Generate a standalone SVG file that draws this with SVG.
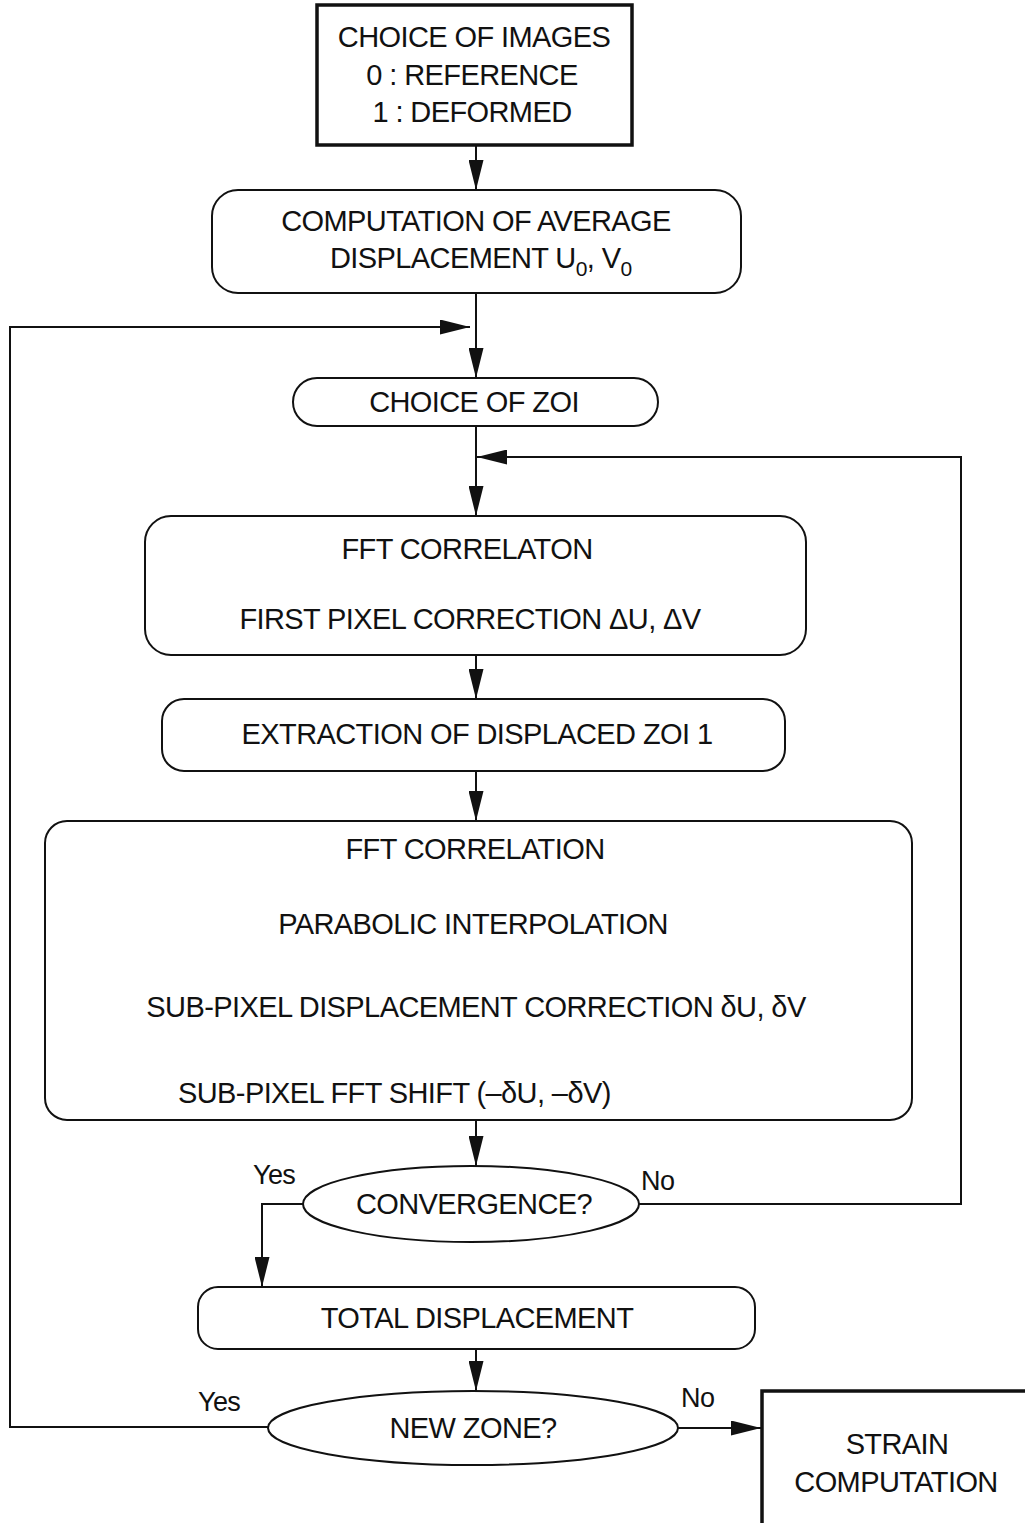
<svg xmlns="http://www.w3.org/2000/svg" width="1025" height="1523" viewBox="0 0 1025 1523">
<style>
  .box { fill: #fff; stroke: #111; stroke-width: 2; }
  .thick { fill: #fff; stroke: #111; stroke-width: 3.5; }
  .line { fill: none; stroke: #111; stroke-width: 2; }
  text { font-family: "Liberation Sans", Arial, sans-serif; font-size: 29px; letter-spacing: -0.6px; fill: #111; }
  .c { text-anchor: middle; }
  .lbl { font-size: 27px; }
</style>
<defs>
  <marker id="ah" viewBox="0 0 30 15" refX="30" refY="7.5" markerWidth="30" markerHeight="15" markerUnits="userSpaceOnUse" orient="auto">
    <path d="M0,0 L30,7.5 L0,15 Z" fill="#111"/>
  </marker>
</defs>
<rect width="1025" height="1523" fill="#fff"/>
<g id="connectors">
  <line class="line" x1="476" y1="145" x2="476" y2="190" marker-end="url(#ah)"/>
  <line class="line" x1="476" y1="293" x2="476" y2="378" marker-end="url(#ah)"/>
  <polyline class="line" points="268,1427 10,1427 10,327 470,327" marker-end="url(#ah)"/>
  <line class="line" x1="476" y1="426" x2="476" y2="516" marker-end="url(#ah)"/>
  <polyline class="line" points="638,1204 961,1204 961,457 477,457" marker-end="url(#ah)"/>
  <line class="line" x1="476" y1="655" x2="476" y2="699" marker-end="url(#ah)"/>
  <line class="line" x1="476" y1="771" x2="476" y2="821" marker-end="url(#ah)"/>
  <line class="line" x1="476" y1="1120" x2="476" y2="1166" marker-end="url(#ah)"/>
  <polyline class="line" points="303,1204 262,1204 262,1287" marker-end="url(#ah)"/>
  <line class="line" x1="476" y1="1349" x2="476" y2="1391" marker-end="url(#ah)"/>
  <line class="line" x1="678" y1="1428" x2="761" y2="1428" marker-end="url(#ah)"/>
</g>
<g id="n-images">
  <rect class="thick" x="317" y="5" width="315" height="140"/>
  <text class="c" x="474" y="47">CHOICE OF IMAGES</text>
  <text class="c" x="472" y="85">0 : REFERENCE</text>
  <text class="c" x="472" y="122">1 : DEFORMED</text>
</g>
<g id="n-average">
  <rect class="box" x="212" y="190" width="529" height="103" rx="26"/>
  <text class="c" x="476" y="231">COMPUTATION OF AVERAGE</text>
  <text x="330" y="268">DISPLACEMENT U<tspan dy="8" font-size="21">0</tspan><tspan dy="-8">, V</tspan><tspan dy="8" font-size="21">0</tspan></text>
</g>
<g id="n-zoi">
  <rect class="box" x="293" y="378" width="365" height="48" rx="24"/>
  <text class="c" x="474" y="412">CHOICE OF ZOI</text>
</g>
<g id="n-fft1">
  <rect class="box" x="145" y="516" width="661" height="139" rx="26"/>
  <text class="c" x="467" y="559">FFT CORRELATON</text>
  <text class="c" x="470" y="629">FIRST PIXEL CORRECTION ΔU, ΔV</text>
</g>
<g id="n-extract">
  <rect class="box" x="162" y="699" width="623" height="72" rx="22"/>
  <text class="c" x="477" y="744">EXTRACTION OF DISPLACED ZOI 1</text>
</g>
<g id="n-fft2">
  <rect class="box" x="45" y="821" width="867" height="299" rx="22"/>
  <text class="c" x="475" y="859">FFT CORRELATION</text>
  <text class="c" x="473" y="934">PARABOLIC INTERPOLATION</text>
  <text class="c" x="476" y="1017">SUB-PIXEL DISPLACEMENT CORRECTION δU, δV</text>
  <text x="178" y="1103">SUB-PIXEL FFT SHIFT (–δU, –δV)</text>
</g>
<g id="n-convergence">
  <ellipse class="box" cx="471" cy="1204" rx="168" ry="38"/>
  <text class="c" x="474" y="1214">CONVERGENCE?</text>
  <text class="lbl" x="253" y="1184">Yes</text>
  <text class="lbl" x="641" y="1190">No</text>
</g>
<g id="n-total">
  <rect class="box" x="198" y="1287" width="557" height="62" rx="20"/>
  <text class="c" x="477" y="1328">TOTAL DISPLACEMENT</text>
</g>
<g id="n-newzone">
  <ellipse class="box" cx="473" cy="1428" rx="205" ry="37"/>
  <text class="c" x="473" y="1438">NEW ZONE?</text>
  <text class="lbl" x="198" y="1411">Yes</text>
  <text class="lbl" x="681" y="1407">No</text>
</g>
<g id="n-strain">
  <rect class="thick" x="762" y="1391" width="280" height="150"/>
  <text class="c" x="897" y="1454">STRAIN</text>
  <text class="c" x="896" y="1492">COMPUTATION</text>
</g>
</svg>
